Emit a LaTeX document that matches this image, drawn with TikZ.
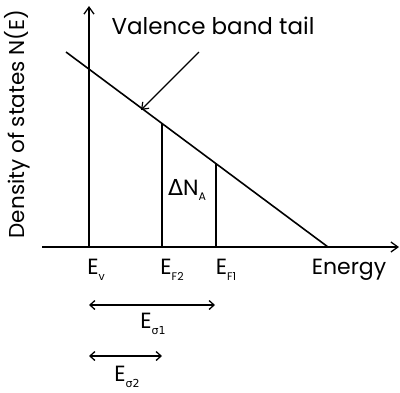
\documentclass[tikz,border=0pt]{standalone}
\usepackage{fontspec}
\setmainfont{Poppins}
\newfontfamily\grk{DejaVu Sans}
\usetikzlibrary{arrows.meta}
\newcommand{\lab}[2]{#1\raisebox{-0.45ex}{\fontsize{11}{11}\selectfont #2}}
\begin{document}
\begin{tikzpicture}[x=1pt,y=-1pt,
  ln/.style={line width=1.6pt},
  ax/.style={line width=1.4pt,-{Straight Barb[length=7pt,width=10pt,line width=1.3pt]}},
  dim/.style={line width=1.4pt,{Straight Barb[length=5pt,width=9pt,line width=1.3pt]}-{Straight Barb[length=5pt,width=9pt,line width=1.3pt]}},
  txt/.style={font=\fontsize{22}{22}\selectfont, inner sep=0pt}]
\useasboundingbox (0,0) rectangle (400,392);
% axes
\coordinate (o) at (89,247);
\coordinate (ytop) at (89,6);
\coordinate (xl) at (42,247);
\coordinate (xr) at (399,247);
\draw[ax] (o) -- (ytop);
\draw[ax] (xl) -- (xr);
% tail line
\coordinate (t1) at (66,52);
\coordinate (t2) at (328,247);
\draw[ln] (t1) -- (t2);
% verticals
\coordinate (f2b) at (162,247);
\coordinate (f2t) at (162,123);
\coordinate (f1b) at (216,247);
\coordinate (f1t) at (216,163);
\draw[ln] (f2b) -- (f2t);
\draw[ln] (f1b) -- (f1t);
% labels
\node[txt,font=\fontsize{23}{23}\selectfont] (vbt) at (213,26) {Valence band tail};
\coordinate (pa) at (199,52);
\coordinate (pb) at (141,110);
\draw[line width=1.2pt,-{Straight Barb[length=6pt,width=9pt,line width=1.2pt]}] (pa) -- (pb);
\node[txt] (dna) at (187,190) {{\grk Δ}\lab{N}{A}};
\node[txt,font=\fontsize{21.5}{21.5}\selectfont,rotate=90] (ylab) at (17,124) {Density of states N(E)};
\node[txt] (ev) at (96,270) {\lab{E}{v}};
\node[txt] (ef2) at (172,270) {\lab{E}{F2}};
\node[txt] (ef1) at (226,270) {\lab{E}{F1}};
\node[txt] (en) at (349,270) {Energy};
% dimension arrows
\coordinate (d1a) at (89,305);
\coordinate (d1b) at (215,305);
\draw[dim] (d1a) -- (d1b);
\node[txt] (es1) at (153,324) {\lab{E}{\grk σ1}};
\coordinate (d2a) at (89,356);
\coordinate (d2b) at (162,356);
\draw[dim] (d2a) -- (d2b);
\node[txt] (es2) at (127,377) {\lab{E}{\grk σ2}};
\end{tikzpicture}
\end{document}
